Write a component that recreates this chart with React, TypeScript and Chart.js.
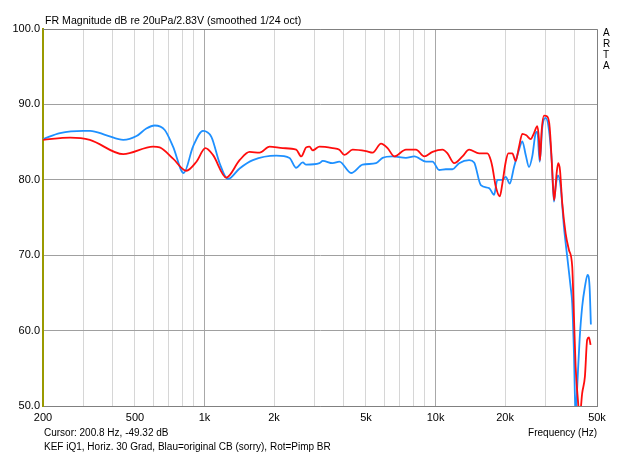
import React, { useEffect, useRef } from "react";
import { Chart, registerables } from "chart.js";

Chart.register(...registerables);

// Frequency axis ticks
const xTickValues = [200, 300, 400, 500, 600, 700, 800, 900, 1000, 2000, 3000, 4000, 5000, 6000, 7000, 8000, 9000, 10000, 20000, 30000, 40000, 50000];
const xTickLabels: Record<number, string> = { 200: "200", 500: "500", 1000: "1k", 2000: "2k", 5000: "5k", 10000: "10k", 20000: "20k", 50000: "50k" };
const majorX = [1000, 10000];

// Blue = original CB
const blueFreq = [200, 237, 299, 320, 377, 445, 508, 560, 609, 673, 731, 813, 892, 985, 1071, 1163, 1263, 1419, 1620, 2044, 2334, 2494, 2663, 2755, 3146, 3250, 3589, 3836, 4311, 4837, 5529, 5902, 6521, 7450, 8092, 9090, 9705, 10371, 11087, 11840, 12656, 13980, 14694, 15704, 17058, 17930, 18526, 19468, 20138, 20950, 21870, 22990, 23750, 24570, 25390, 26230, 27140, 27580, 28250, 28990, 29980, 30980, 31830, 32560, 33110, 33880, 34800, 35960, 37160, 38440, 39060, 39740, 40410, 41060, 42040, 43140, 44320, 45520, 46440, 47040];
const blueDb = [85.4, 86.2, 86.5, 86.5, 85.9, 85.3, 85.8, 86.8, 87.2, 86.6, 84.4, 80.9, 84.4, 86.5, 85.7, 82.2, 80.1, 81.5, 82.6, 83.2, 82.9, 81.6, 82.3, 82.0, 82.2, 82.5, 82.2, 82.4, 80.9, 82.0, 82.2, 82.9, 83.1, 82.9, 83.1, 82.4, 82.4, 81.3, 81.4, 81.4, 82.2, 82.6, 82.3, 79.3, 78.9, 78.0, 80.0, 80.0, 80.4, 79.5, 81.7, 84.0, 85.1, 83.3, 81.7, 83.1, 86.2, 86.4, 82.4, 87.0, 88.2, 86.6, 82.6, 77.1, 79.1, 80.6, 79.1, 73.8, 69.8, 65.8, 63.6, 57.0, 48.5, 52.6, 58.8, 63.2, 65.8, 67.4, 65.8, 60.8];

// Red = Pimp BR
const redFreq = [200, 262, 319, 445, 599, 640, 731, 835, 923, 1009, 1088, 1243, 1419, 1568, 1732, 1913, 2184, 2494, 2622, 2755, 2846, 2941, 2992, 3146, 3589, 3836, 4033, 4380, 5004, 5345, 5810, 6202, 6631, 7450, 8230, 8937, 9705, 10720, 11266, 12042, 13080, 13980, 15444, 16770, 17350, 17628, 18234, 18974, 19468, 20138, 20660, 21500, 22240, 22990, 23750, 24720, 25820, 26690, 27580, 28050, 28330, 28820, 29480, 30460, 31190, 31830, 32340, 32650, 33440, 33980, 34570, 35360, 36570, 37800, 39060, 39740, 40410, 41340, 42040, 43140, 44320, 45340, 46120, 46900];
const redDb = [85.3, 85.6, 85.3, 83.4, 84.4, 84.3, 82.8, 81.2, 82.4, 84.2, 83.3, 80.3, 82.6, 83.7, 83.6, 84.4, 84.2, 84.0, 83.1, 84.3, 84.4, 83.9, 84.0, 84.4, 84.2, 84.0, 83.3, 84.0, 83.8, 83.6, 84.8, 84.2, 83.1, 84.0, 84.0, 83.1, 83.7, 84.0, 83.5, 82.2, 83.1, 84.0, 83.5, 83.5, 82.6, 81.7, 79.1, 77.8, 79.5, 82.4, 83.5, 83.5, 82.5, 84.4, 86.1, 85.9, 85.4, 86.2, 87.1, 85.3, 82.6, 86.6, 88.5, 88.4, 87.0, 82.6, 78.6, 77.3, 80.9, 82.2, 81.3, 76.9, 72.9, 70.7, 68.5, 61.8, 55.2, 50.8, 48.5, 51.7, 53.9, 58.8, 59.1, 58.1];

const titleText = "FR Magnitude dB re 20uPa/2.83V (smoothed 1/24 oct)";
const cursorText = "Cursor: 200.8 Hz, -49.32 dB";
const axisTitle = "Frequency (Hz)";
const noteText = "KEF iQ1, Horiz. 30 Grad, Blau=original CB (sorry), Rot=Pimp BR";
const sideText = ["A", "R", "T", "A"];

const FAMILY = '"Liberation Sans", Arial, sans-serif';

const textPlugin = {
  id: "artaText",
  afterDraw(chart: any) {
    const { ctx, chartArea } = chart;
    const { left, right, top, bottom } = chartArea;
    ctx.save();
    // frame: top and right borders
    ctx.strokeStyle = "#808080";
    ctx.lineWidth = 1;
    ctx.beginPath();
    ctx.moveTo(left, top + 0.5);
    ctx.lineTo(right + 0.5, top + 0.5);
    ctx.lineTo(right + 0.5, bottom);
    ctx.stroke();
    ctx.fillStyle = "#000";
    ctx.textBaseline = "middle";
    ctx.textAlign = "left";
    ctx.font = `10.6px ${FAMILY}`;
    ctx.fillText(titleText, left + 2, 21);
    ctx.font = `10px ${FAMILY}`;
    ctx.fillText(cursorText, left + 1, 433);
    ctx.fillText(noteText, left + 1, 447);
    ctx.textAlign = "right";
    ctx.fillText(axisTitle, right, 433);
    ctx.textAlign = "left";
    sideText.forEach((s, i) => ctx.fillText(s, right + 6, 33 + i * 11));
    ctx.restore();
  },
};

export default function App() {
  const ref = useRef<HTMLCanvasElement>(null);
  useEffect(() => {
    if (!ref.current) return;
    const blue = blueFreq.map((f, i) => ({ x: f, y: blueDb[i] }));
    const red = redFreq.map((f, i) => ({ x: f, y: redDb[i] }));
    const chart = new Chart(ref.current, {
      type: "line",
      data: {
        datasets: [
          { label: "Blau", data: blue, borderColor: "#1e90ff", borderWidth: 1.8, pointRadius: 0, cubicInterpolationMode: "monotone", order: 2 },
          { label: "Rot", data: red, borderColor: "#ff0d0d", borderWidth: 1.8, pointRadius: 0, cubicInterpolationMode: "monotone", order: 1 },
        ],
      },
      options: {
        animation: false,
        responsive: false,
        devicePixelRatio: 1,
        layout: { padding: { top: 29, right: 43, left: 0, bottom: 0 } },
        plugins: { legend: { display: false }, tooltip: { enabled: false }, title: { display: false } },
        scales: {
          x: {
            type: "logarithmic",
            min: 200,
            max: 50000,
            afterBuildTicks: (s: any) => { s.ticks = xTickValues.map((v) => ({ value: v })); },
            afterFit: (s: any) => { s.height = 49; },
            ticks: {
              autoSkip: false,
              maxRotation: 0,
              padding: 5,
              color: "#000",
              font: { family: FAMILY, size: 11 },
              callback: (v: any) => xTickLabels[Number(v)] ?? "",
            },
            grid: {
              drawTicks: false,
              color: (c: any) => (c.tick && majorX.includes(c.tick.value) ? "#a8a8a8" : "#d6d6d6"),
              lineWidth: 1,
            },
            border: { color: "#808080", width: 1 },
          },
          y: {
            min: 50,
            max: 100,
            afterFit: (s: any) => { s.width = 43; },
            ticks: {
              stepSize: 10,
              padding: 3,
              color: "#000",
              font: { family: FAMILY, size: 11 },
              callback: (v: any) => Number(v).toFixed(1),
            },
            grid: { drawTicks: false, color: "#a0a0a0", lineWidth: 1 },
            border: { color: "#9a9a00", width: 2 },
          },
        },
      },
      plugins: [textPlugin],
    } as any);
    return () => chart.destroy();
  }, []);
  return (
    <div style={{ position: "absolute", left: 0, top: 0, width: 640, height: 455, background: "#fff" }}>
      <canvas ref={ref} width={640} height={455} style={{ display: "block" }} />
    </div>
  );
}
